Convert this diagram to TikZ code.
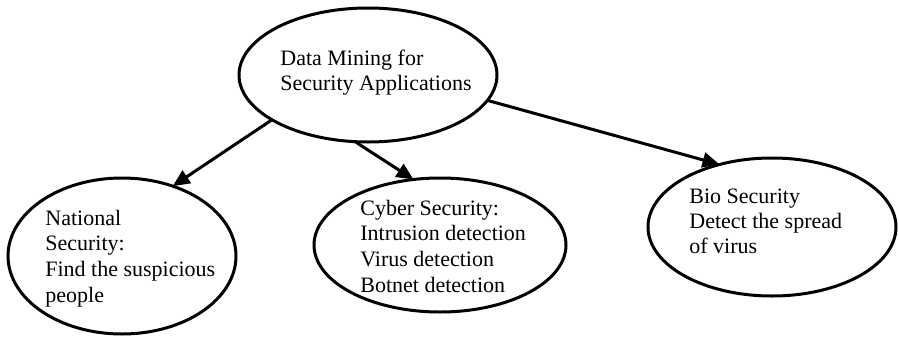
\documentclass[tikz,border=0pt]{standalone}
\usepackage{fontspec}
\setmainfont{Liberation Serif}
\usetikzlibrary{shapes.geometric,arrows.meta}

\begin{document}
\begin{tikzpicture}[x=0.5pt,y=-0.5pt,
  topic/.style={draw=black,line width=1.5pt,ellipse,inner sep=0pt,outer sep=0pt},
  label/.style={anchor=base west,inner sep=0pt,align=left,
    font=\fontsize{11pt}{12.8pt}\selectfont},
  link/.style={line width=1.5pt,-{Triangle[length=8.5pt,width=7.5pt]}}]
  \useasboundingbox (0,0) rectangle (899,337);

  % ellipses
  \node[topic,minimum width=129pt,minimum height=67pt] (dm)  at (368,75)  {};
  \node[topic,minimum width=114pt,minimum height=78pt] (nat) at (122,256) {};
  \node[topic,minimum width=126pt,minimum height=67pt] (cyb) at (440,245) {};
  \node[topic,minimum width=124pt,minimum height=69pt] (bio) at (772,227) {};

  % texts (the base anchor sits on the last line)
  \node[label,font=\fontsize{11pt}{12.5pt}\selectfont] (dmt) at (280,90)
    {Data Mining for\\Security Applications};
  \node[label] (natt) at (45,302)
    {National\\Security:\\Find the suspicious\\people};
  \node[label] (cybt) at (360,292)
    {Cyber Security:\\Intrusion detection\\Virus detection\\Botnet detection};
  \node[label,font=\fontsize{11pt}{12.5pt}\selectfont] (biot) at (689,253)
    {Bio Security\\Detect the spread\\of virus};

  % connectors
  \draw[link] (dm.205.2) -- (nat.54.3);
  \draw[link] (dm.259.5) -- (cyb.112.7);
  \draw[link] (dm.-12.2) -- (bio.130.7);
\end{tikzpicture}
\end{document}
